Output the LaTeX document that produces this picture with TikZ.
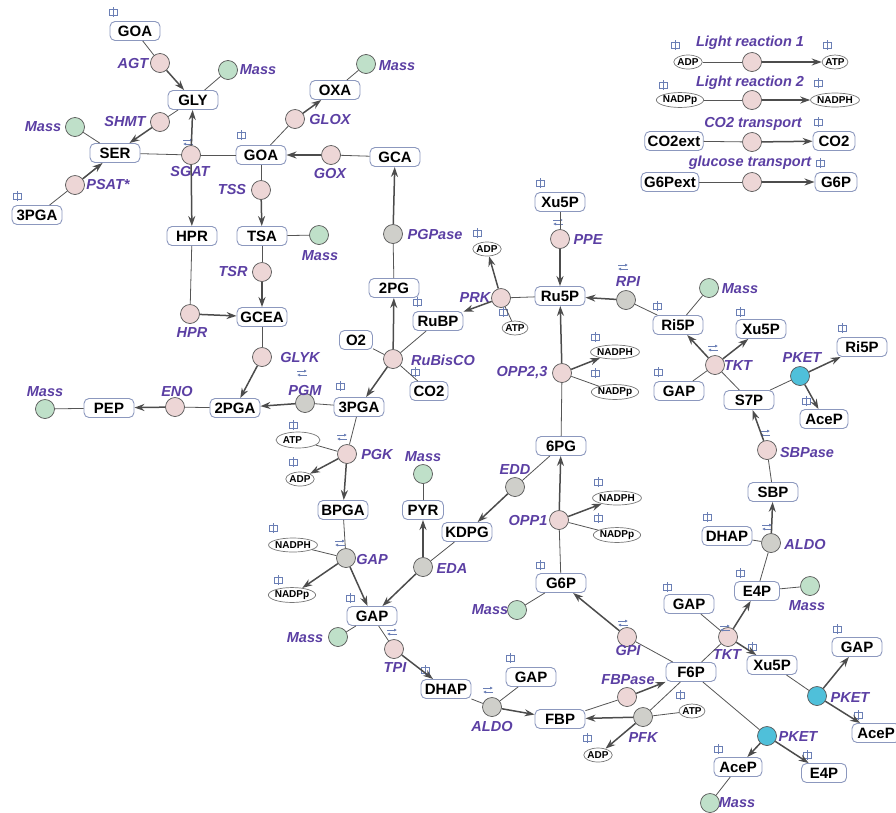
\documentclass[tikz,border=0pt]{standalone}
\usepackage{fontspec}
\setmainfont{Liberation Sans}
\usetikzlibrary{arrows.meta,shapes.geometric}
\definecolor{lab}{HTML}{5B3FA3}
\definecolor{bord}{HTML}{8C98BE}
\definecolor{rpink}{HTML}{EDD6D6}
\definecolor{rgray}{HTML}{CFCFCA}
\definecolor{rgreen}{HTML}{BFE0C9}
\definecolor{rcyan}{HTML}{4FC0DA}
\definecolor{edgec}{HTML}{555555}
\definecolor{iconc}{HTML}{6B7FB5}
\begin{document}
\begin{tikzpicture}[x=1pt,y=-1pt,
  met/.style={draw=bord, line width=0.9pt, rounded corners=5pt, fill=white, minimum width=50pt, minimum height=19pt, inner xsep=3pt, inner ysep=1.5pt, font=\fontsize{15}{16}\selectfont\bfseries},
  cof/.style={ellipse, draw=edgec!80, line width=0.7pt, fill=white, inner xsep=-0.5pt, inner ysep=0.8pt, minimum height=14pt, font=\fontsize{10}{11}\selectfont\bfseries},
  rxn/.style={circle, draw=edgec, line width=0.7pt, minimum size=19pt, inner sep=0pt, fill=rpink},
  rg/.style={rxn, fill=rgray},
  mass/.style={rxn, fill=rgreen},
  pket/.style={rxn, fill=rcyan},
  lbl/.style={text=lab, font=\fontsize{14.5}{15}\selectfont\bfseries\itshape, inner sep=0pt},
  ln/.style={draw=edgec, line width=0.8pt},
  pr/.style={draw=edgec!90!black, line width=1.5pt, -{Stealth[length=10pt,width=7pt]}},
  cmpic/.pic={\draw[iconc, line width=0.6pt] (-4,-2.8) rectangle (4,2.8); \draw[iconc, line width=0.6pt] (0,-5) -- (0,5);},
  revpic/.pic={\draw[iconc, line width=0.7pt, -{Latex[length=3pt,width=3pt]}] (-5,-2) -- (5,-2); \draw[iconc, line width=0.7pt, -{Latex[length=3pt,width=3pt]}] (5,2) -- (-5,2);}
]
\useasboundingbox (0,0) rectangle (896,812);

% ---------- metabolites ----------
\node[met] (goaT) at (135,31) {GOA};
\node[met] (gly) at (193,100) {GLY};
\node[met] (ser) at (115,153) {SER};
\node[met] (goaM) at (261,155) {GOA};
\node[met] (pga3L) at (37,215) {3PGA};
\node[met] (oxa) at (335,90) {OXA};
\node[met] (gca) at (395,157) {GCA};
\node[met] (hpr) at (192,236) {HPR};
\node[met] (tsa) at (262,236) {TSA};
\node[met] (gcea) at (262,317) {GCEA};
\node[met] (pga2) at (235,408) {2PGA};
\node[met] (pep) at (109,408) {PEP};
\node[met] (pg2) at (394,288) {2PG};
\node[met] (rubp) at (438,321) {RuBP};
\node[met, minimum width=33pt] (o2) at (356,340) {O2};
\node[met, minimum width=38pt] (co2) at (429,391) {CO2};
\node[met] (pga3) at (359,407) {3PGA};
\node[met] (xu5pT) at (560,202) {Xu5P};
\node[met] (ru5p) at (560,296) {Ru5P};
\node[met] (ri5p) at (678,325) {Ri5P};
\node[met] (xu5pR) at (761,329) {Xu5P};
\node[met] (gapR) at (679,391) {GAP};
\node[met] (s7p) at (749,400) {S7P};
\node[met] (ri5pR) at (862,347) {Ri5P};
\node[met, minimum width=48pt] (aceR) at (824,419) {AceP};
\node[met] (sbp) at (773,492) {SBP};
\node[met] (dhapR) at (727,536) {DHAP};
\node[met, minimum width=45pt] (e4p) at (757,591) {E4P};
\node[met] (bpga) at (343,510) {BPGA};
\node[met, minimum width=41pt] (pyr) at (423,510) {PYR};
\node[met] (kdpg) at (467,532) {KDPG};
\node[met] (pg6) at (561,446) {6PG};
\node[met] (g6p) at (561,583) {G6P};
\node[met] (gapB) at (372,616) {GAP};
\node[met] (dhap) at (446,689) {DHAP};
\node[met] (gapA) at (531,677) {GAP};
\node[met] (fbp) at (560,719) {FBP};
\node[met] (gapT) at (689,604) {GAP};
\node[met] (f6p) at (691,672) {F6P};
\node[met] (xu5pB) at (772,665) {Xu5P};
\node[met] (gapRR) at (857,647) {GAP};
\node[met, minimum width=48pt] (aceRR) at (876,733) {AceP};
\node[met, minimum width=48pt] (aceB) at (738,767) {AceP};
\node[met, minimum width=45pt] (e4pB) at (824,773) {E4P};
\node[met] (co2ext) at (674,141) {CO2ext};
\node[met, minimum width=42pt] (co2L) at (834,141) {CO2};
\node[met] (g6pext) at (670,182) {G6Pext};
\node[met, minimum width=42pt] (g6pL) at (836,182) {G6P};

% ---------- cofactors ----------
\node[cof] (adpPRK) at (487,249) {ADP};
\node[cof] (atpPRK) at (515,328) {ATP};
\node[cof] (nadphO2) at (615,352) {NADPH};
\node[cof] (nadppO2) at (615,392) {NADPp};
\node[cof] (nadphO1) at (617,498) {NADPH};
\node[cof] (nadppO1) at (617,535) {NADPp};
\node[cof, minimum width=44pt, minimum height=16pt] (atpPGK) at (298,440) {ATP\hspace*{11pt}};
\node[cof] (adpPGK) at (300,479) {ADP};
\node[cof] (nadphG) at (293,545) {NADPH};
\node[cof] (nadppG) at (292,595) {NADPp};
\node[cof] (atpPFK) at (692,711) {ATP};
\node[cof] (adpPFK) at (598,755) {ADP};
\node[cof] (adpL) at (688,62) {ADP};
\node[cof] (atpL) at (835,62) {ATP};
\node[cof] (nadppL) at (680,100) {NADPp};
\node[cof] (nadphL) at (835,100) {NADPH};

% ---------- reactions ----------
\node[rxn] (agt) at (160,63) {};
\node[mass] (mGLY) at (228,70) {};
\node[rxn] (shmt) at (160,122) {};
\node[mass] (mSER) at (75,127) {};
\node[rxn] (sgat) at (191,155) {};
\node[rxn] (tss) at (261,190) {};
\node[rxn] (psat) at (75,185) {};
\node[rxn] (glox) at (295,119) {};
\node[mass] (mOXA) at (366,64) {};
\node[rxn] (gox) at (331,155) {};
\node[mass] (mTSA) at (319,235) {};
\node[rxn] (tsr) at (262,272) {};
\node[rxn] (hprR) at (190,314) {};
\node[rxn] (glyk) at (262,357) {};
\node[rg] (pgm) at (305,403) {};
\node[rxn] (eno) at (175,407) {};
\node[mass] (mPEP) at (45,409) {};
\node[rg] (pgpase) at (393,234) {};
\node[rxn] (rubisco) at (393,359) {};
\node[rxn] (prk) at (501,298) {};
\node[rxn] (ppe) at (560,239) {};
\node[rg] (rpi) at (626,300) {};
\node[rxn] (opp23) at (562,373) {};
\node[mass] (mRI5P) at (709,288) {};
\node[rxn] (tktT) at (715,365) {};
\node[pket] (pketT) at (800,376) {};
\node[rxn] (sbpase) at (767,450) {};
\node[rg] (aldoR) at (771,543) {};
\node[mass] (mE4P) at (810,586) {};
\node[rxn] (pgk) at (347,454) {};
\node[mass] (mPYR) at (423,474) {};
\node[rg] (gaprx) at (346,558) {};
\node[rg] (eda) at (423,567) {};
\node[rg] (edd) at (515,487) {};
\node[rxn] (opp1) at (559,520) {};
\node[mass] (mG6P) at (517,610) {};
\node[mass] (mGAP) at (338,637) {};
\node[rxn] (tpi) at (394,649) {};
\node[rg] (aldoB) at (492,707) {};
\node[rxn] (gpi) at (627,637) {};
\node[rxn] (tktB) at (728,637) {};
\node[rxn] (fbpase) at (627,697) {};
\node[rg] (pfk) at (643,717) {};
\node[pket] (pketB) at (767,736) {};
\node[mass] (mACE) at (710,803) {};
\node[pket] (pketR) at (817,696) {};
\node[rxn] (lr1) at (752,62) {};
\node[rxn] (lr2) at (752,100) {};
\node[rxn] (lr3) at (752,142) {};
\node[rxn] (lr4) at (752,182) {};

% ---------- labels ----------
\node[lbl] (tAGT) at (133,63) {AGT};
\node[lbl] (tM1) at (258,70) {Mass};
\node[lbl] (tSHMT) at (125,122) {SHMT};
\node[lbl] (tM2) at (43,127) {Mass};
\node[lbl] (tSGAT) at (190,172) {SGAT};
\node[lbl] (tPSAT) at (108,185) {PSAT*};
\node[lbl] (tTSS) at (232,190) {TSS};
\node[lbl] (tGLOX) at (330,120) {GLOX};
\node[lbl] (tM3) at (397,66) {Mass};
\node[lbl] (tGOX) at (330,174) {GOX};
\node[lbl] (tM4) at (320,256) {Mass};
\node[lbl] (tTSR) at (233,272) {TSR};
\node[lbl] (tHPR) at (192,333) {HPR};
\node[lbl] (tGLYK) at (300,357) {GLYK};
\node[lbl] (tPGM) at (305,390) {PGM};
\node[lbl] (tENO) at (177,391) {ENO};
\node[lbl] (tM5) at (45,392) {Mass};
\node[lbl] (tPGP) at (435,235) {PGPase};
\node[lbl] (tRUB) at (443,360) {RuBisCO};
\node[lbl] (tPRK) at (475,298) {PRK};
\node[lbl] (tPPE) at (588,240) {PPE};
\node[lbl] (tOPP23) at (522,373) {OPP2,3};
\node[lbl] (tRPI) at (628,282) {RPI};
\node[lbl] (tM6) at (740,289) {Mass};
\node[lbl] (tTKT1) at (738,366) {TKT};
\node[lbl] (tPKET1) at (802,358) {PKET};
\node[lbl] (tSBP) at (807,452) {SBPase};
\node[lbl] (tALDO1) at (805,544) {ALDO};
\node[lbl] (tM7) at (807,606) {Mass};
\node[lbl] (tPGK) at (377,454) {PGK};
\node[lbl] (tM8) at (423,457) {Mass};
\node[lbl] (tGAP) at (372,559) {GAP};
\node[lbl] (tEDA) at (452,568) {EDA};
\node[lbl] (tEDD) at (515,470) {EDD};
\node[lbl] (tOPP1) at (528,520) {OPP1};
\node[lbl] (tM9) at (490,610) {Mass};
\node[lbl] (tM10) at (305,638) {Mass};
\node[lbl] (tTPI) at (395,667) {TPI};
\node[lbl] (tALDO2) at (492,726) {ALDO};
\node[lbl] (tGPI) at (628,650) {GPI};
\node[lbl] (tTKT2) at (727,654) {TKT};
\node[lbl] (tFBPase) at (628,680) {FBPase};
\node[lbl] (tPFK) at (643,737) {PFK};
\node[lbl] (tPKET2) at (798,736) {PKET};
\node[lbl] (tM11) at (737,803) {Mass};
\node[lbl] (tPKET3) at (850,697) {PKET};
\node[lbl] (tL1) at (750,43) {Light reaction 1};
\node[lbl] (tL2) at (750,83) {Light reaction 2};
\node[lbl] (tL3) at (753,124) {CO2 transport};
\node[lbl] (tL4) at (750,163) {glucose transport};

% ---------- compartment icons ----------
\foreach \p in {(113,12),(241,135),(17,196),(540,183),(477,233),(417,302),(415,372),(340,386),(503,312),(595,337),(595,373),(657,306),(740,312),(658,372),(842,328),(806,401),(707,517),(740,573),(293,425),(293,462),(273,528),(278,580),(350,598),(598,482),(598,518),(540,565),(425,670),(510,658),(667,587),(752,647),(680,695),(587,738),(718,749),(807,755),(837,629),(858,715),(675,45),(827,45),(663,85),(818,83),(818,122),(820,163)}
  \pic at \p {cmpic};

% ---------- reversibility icons ----------
\foreach \p in {(188,142),(302,373),(558,222),(623,267),(713,348),(342,437),(340,543),(392,632),(488,690),(623,623),(725,628),(765,433),(767,527)}
  \pic at \p {revpic};

% ---------- connectors ----------
\draw[ln] (goaT) -- (agt); \draw[pr] (agt) -- (gly);
\draw[ln] (gly) -- (mGLY);
\draw[ln] (gly) -- (shmt); \draw[pr] (shmt) -- (ser);
\draw[ln] (ser) -- (mSER);
\draw[ln] (pga3L) -- (psat); \draw[pr] (psat) -- (ser);
\draw[ln] (ser) -- (sgat); \draw[ln] (goaM) -- (sgat);
\draw[pr] (sgat) -- (gly); \draw[pr] (sgat) -- (hpr);
\draw[ln] (goaM) -- (glox); \draw[pr] (glox) -- (oxa);
\draw[ln] (oxa) -- (mOXA);
\draw[ln] (gca) -- (gox); \draw[pr] (gox) -- (goaM);
\draw[ln] (goaM) -- (tss); \draw[pr] (tss) -- (tsa);
\draw[ln] (tsa) -- (mTSA);
\draw[ln] (tsa) -- (tsr); \draw[pr] (tsr) -- (gcea);
\draw[ln] (hpr) -- (hprR); \draw[pr] (hprR) -- (gcea);
\draw[ln] (gcea) -- (glyk); \draw[pr] (glyk) -- (pga2);
\draw[ln] (pga3) -- (pgm); \draw[pr] (pgm) -- (pga2);
\draw[ln] (pga2) -- (eno); \draw[pr] (eno) -- (pep);
\draw[ln] (pep) -- (mPEP);
\draw[ln] (pg2) -- (pgpase); \draw[pr] (pgpase) -- (gca);
\draw[ln] (rubp) -- (rubisco); \draw[ln] (o2) -- (rubisco); \draw[ln] (co2) -- (rubisco);
\draw[pr] (rubisco) -- (pg2); \draw[pr] (rubisco) -- (pga3);
\draw[ln] (ru5p) -- (prk); \draw[ln] (atpPRK) -- (prk);
\draw[pr] (prk) -- (rubp); \draw[pr] (prk) -- (adpPRK);
\draw[ln] (xu5pT) -- (ppe); \draw[pr] (ppe) -- (ru5p);
\draw[ln] (ri5p) -- (rpi); \draw[pr] (rpi) -- (ru5p);
\draw[ln] (pg6) -- (opp23); \draw[ln] (nadppO2) -- (opp23);
\draw[pr] (opp23) -- (ru5p); \draw[pr] (opp23) -- (nadphO2);
\draw[ln] (ri5p) -- (mRI5P);
\draw[ln] (s7p) -- (tktT); \draw[ln] (gapR) -- (tktT);
\draw[pr] (tktT) -- (ri5p); \draw[pr] (tktT) -- (xu5pR);
\draw[ln] (s7p) -- (pketT); \draw[pr] (pketT) -- (ri5pR); \draw[pr] (pketT) -- (aceR);
\draw[ln] (sbp) -- (sbpase); \draw[pr] (sbpase) -- (s7p);
\draw[ln] (dhapR) -- (aldoR); \draw[ln] (e4p) -- (aldoR); \draw[pr] (aldoR) -- (sbp);
\draw[ln] (e4p) -- (mE4P);
\draw[ln] (f6p) -- (tktB); \draw[ln] (gapT) -- (tktB);
\draw[pr] (tktB) -- (e4p); \draw[pr] (tktB) -- (xu5pB);
\draw[ln] (f6p) -- (gpi); \draw[pr] (gpi) -- (g6p);
\draw[ln] (g6p) -- (mG6P);
\draw[ln] (g6p) -- (opp1); \draw[ln] (nadppO1) -- (opp1);
\draw[pr] (opp1) -- (pg6); \draw[pr] (opp1) -- (nadphO1);
\draw[ln] (pg6) -- (edd); \draw[pr] (edd) -- (kdpg);
\draw[ln] (kdpg) -- (eda); \draw[pr] (eda) -- (pyr); \draw[pr] (eda) -- (gapB);
\draw[ln] (pyr) -- (mPYR);
\draw[ln] (pga3) -- (pgk); \draw[ln] (atpPGK) -- (pgk);
\draw[pr] (pgk) -- (bpga); \draw[pr] (pgk) -- (adpPGK);
\draw[ln] (bpga) -- (gaprx); \draw[ln] (nadphG) -- (gaprx);
\draw[pr] (gaprx) -- (gapB); \draw[pr] (gaprx) -- (nadppG);
\draw[ln] (gapB) -- (mGAP);
\draw[ln] (gapB) -- (tpi); \draw[pr] (tpi) -- (dhap);
\draw[ln] (dhap) -- (aldoB); \draw[ln] (gapA) -- (aldoB); \draw[pr] (aldoB) -- (fbp);
\draw[ln] (fbp) -- (fbpase); \draw[pr] (fbpase) -- (f6p);
\draw[ln] (f6p) -- (pfk); \draw[ln] (atpPFK) -- (pfk);
\draw[pr] (pfk) -- (fbp); \draw[pr] (pfk) -- (adpPFK);
\draw[ln] (f6p) -- (pketB); \draw[pr] (pketB) -- (aceB); \draw[pr] (pketB) -- (e4pB);
\draw[ln] (aceB) -- (mACE);
\draw[ln] (xu5pB) -- (pketR); \draw[pr] (pketR) -- (gapRR); \draw[pr] (pketR) -- (aceRR);
\draw[ln] (adpL) -- (lr1); \draw[pr] (lr1) -- (atpL);
\draw[ln] (nadppL) -- (lr2); \draw[pr] (lr2) -- (nadphL);
\draw[ln] (co2ext) -- (lr3); \draw[pr] (lr3) -- (co2L);
\draw[ln] (g6pext) -- (lr4); \draw[pr] (lr4) -- (g6pL);
\end{tikzpicture}
\end{document}
